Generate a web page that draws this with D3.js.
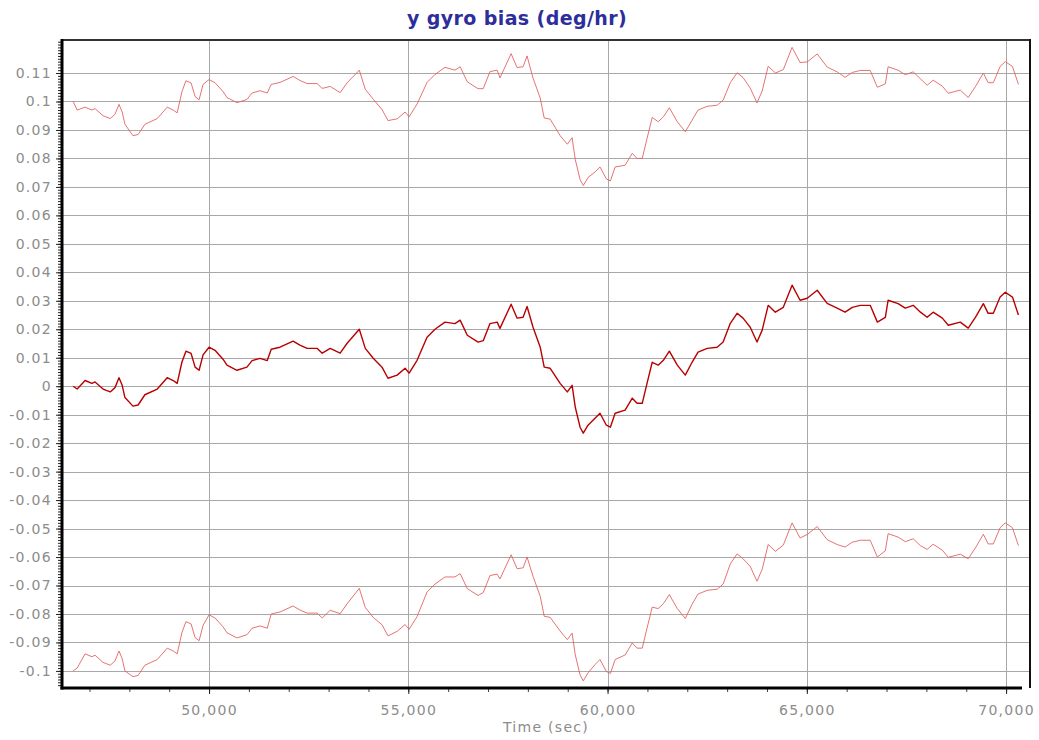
<!DOCTYPE html>
<html>
<head>
<meta charset="utf-8">
<script src="https://cdn.jsdelivr.net/npm/d3@7"></script>
<style>
  body { margin: 0; background: #fff; }
  .tick-label { font-family: "DejaVu Sans", Verdana, sans-serif; font-size: 14px; fill: #8c8c8c; letter-spacing: 1.3px; }
  .title { font-family: "DejaVu Sans", Verdana, sans-serif; font-size: 19px; font-weight: bold; fill: #2d2d9c; letter-spacing: 0.4px; }
</style>
</head>
<body>
<div id="chart"></div>
<script>

// time stamps (sec)
var times = [46590, 46690, 46890, 47060, 47140, 47340, 47520, 47640, 47740, 47820,
    47890, 48090, 48220, 48390, 48700, 48950, 49100, 49200, 49320, 49420,
    49550, 49650, 49750, 49850, 50000, 50150, 50350, 50450, 50700, 50950,
    51080, 51280, 51460, 51560, 51780, 52110, 52280, 52460, 52710, 52840,
    53040, 53290, 53460, 53770, 53920, 54120, 54340, 54490, 54720, 54920,
    55020, 55220, 55470, 55670, 55920, 56170, 56300, 56480, 56750, 56880,
    57050, 57230, 57300, 57580, 57730, 57880, 57980, 58130, 58310, 58410,
    58560, 58810, 58990, 59110, 59190, 59310, 59390, 59510, 59690, 59810,
    59970, 60070, 60190, 60440, 60620, 60740, 60870, 60990, 61120, 61270,
    61400, 61550, 61750, 61950, 62120, 62270, 62500, 62750, 62900, 63080,
    63250, 63400, 63580, 63750, 63880, 64030, 64210, 64410, 64630, 64830,
    65010, 65260, 65510, 65760, 65960, 66140, 66340, 66590, 66770, 66970,
    67040, 67290, 67470, 67670, 67850, 68020, 68170, 68400, 68550, 68850,
    69050, 69230, 69430, 69550, 69680, 69850, 69980, 70160, 70310];

// bias estimate
var bias = [0, -0.001, 0.002, 0.001, 0.0015, -0.001, -0.002, -0.0005, 0.003, 0.0003,
    -0.004, -0.007, -0.0066, -0.003, -0.001, 0.003, 0.002, 0.001, 0.0085, 0.0123,
    0.0115, 0.0067, 0.0056, 0.011, 0.0137, 0.0126, 0.0095, 0.0074, 0.0056, 0.0067,
    0.009, 0.0098, 0.009, 0.013, 0.0137, 0.0158, 0.0144, 0.0133, 0.0133, 0.0116,
    0.0133, 0.0116, 0.015, 0.02, 0.0133, 0.0098, 0.0067, 0.0028, 0.0039, 0.0063,
    0.0046, 0.0091, 0.0172, 0.02, 0.0225, 0.022, 0.0232, 0.0179, 0.0155, 0.016,
    0.022, 0.0225, 0.0203, 0.0288, 0.0239, 0.0242, 0.028, 0.0207, 0.0137, 0.0067,
    0.0063, 0.001, -0.002, 0.0003, -0.0074, -0.0144, -0.0165, -0.0137, -0.0112, -0.0095,
    -0.0137, -0.0144, -0.0095, -0.0084, -0.0042, -0.006, -0.006, 0.001, 0.0084, 0.0074,
    0.0091, 0.0123, 0.0074, 0.0039, 0.0084, 0.012, 0.0133, 0.0137, 0.0155, 0.0221,
    0.0256, 0.0239, 0.0207, 0.0155, 0.0197, 0.0284, 0.026, 0.0277, 0.0355, 0.0302,
    0.0309, 0.0337, 0.0291, 0.0274, 0.026, 0.0277, 0.0284, 0.0284, 0.0225, 0.0242,
    0.0302, 0.029, 0.0274, 0.0284, 0.026, 0.0242, 0.026, 0.0239, 0.0214, 0.0225,
    0.0204, 0.0242, 0.029, 0.0256, 0.0256, 0.0313, 0.033, 0.0313, 0.025];

// upper bound
var upper = [0.1, 0.097, 0.098, 0.097, 0.0975, 0.095, 0.094, 0.0955, 0.099, 0.0963,
    0.092, 0.088, 0.0884, 0.092, 0.094, 0.098, 0.097, 0.096, 0.1035, 0.1073,
    0.1065, 0.1017, 0.1006, 0.106, 0.1077, 0.1066, 0.1035, 0.1014, 0.0996, 0.1007,
    0.103, 0.1038, 0.103, 0.106, 0.1067, 0.1088, 0.1074, 0.1063, 0.1063, 0.1046,
    0.1053, 0.1031, 0.1065, 0.111, 0.1043, 0.1008, 0.0972, 0.0933, 0.0939, 0.0963,
    0.0946, 0.0991, 0.1067, 0.1095, 0.112, 0.111, 0.1122, 0.1069, 0.1045, 0.1045,
    0.1105, 0.111, 0.1083, 0.1168, 0.1119, 0.1122, 0.116, 0.1082, 0.1012, 0.0942,
    0.0938, 0.088, 0.085, 0.0873, 0.0796, 0.0726, 0.0705, 0.0733, 0.0753, 0.077,
    0.0728, 0.0721, 0.077, 0.0776, 0.0818, 0.08, 0.08, 0.087, 0.0944, 0.0929,
    0.0946, 0.0978, 0.0929, 0.0894, 0.0934, 0.097, 0.0983, 0.0987, 0.1005, 0.1066,
    0.1101, 0.1084, 0.1047, 0.0995, 0.1037, 0.1124, 0.11, 0.1112, 0.119, 0.1137,
    0.1139, 0.1167, 0.1121, 0.1104, 0.1085, 0.1102, 0.1109, 0.1109, 0.105, 0.1062,
    0.1122, 0.111, 0.1094, 0.1104, 0.108, 0.1057, 0.1075, 0.1054, 0.1029, 0.104,
    0.1014, 0.1052, 0.11, 0.1066, 0.1066, 0.1123, 0.114, 0.1123, 0.106];

// lower bound
var lower = [-0.1, -0.099, -0.094, -0.095, -0.0945, -0.097, -0.098, -0.0965, -0.093, -0.0957,
    -0.1, -0.102, -0.1016, -0.098, -0.096, -0.092, -0.093, -0.094, -0.0865, -0.0827,
    -0.0835, -0.0883, -0.0894, -0.084, -0.0803, -0.0814, -0.0845, -0.0866, -0.0884, -0.0873,
    -0.085, -0.0842, -0.085, -0.08, -0.0793, -0.0772, -0.0786, -0.0797, -0.0797, -0.0814,
    -0.0787, -0.0799, -0.0765, -0.071, -0.0777, -0.0812, -0.0838, -0.0877, -0.0861, -0.0837,
    -0.0854, -0.0809, -0.0723, -0.0695, -0.067, -0.067, -0.0658, -0.0711, -0.0735, -0.0725,
    -0.0665, -0.066, -0.0677, -0.0592, -0.0641, -0.0638, -0.06, -0.0668, -0.0738, -0.0808,
    -0.0812, -0.086, -0.089, -0.0867, -0.0944, -0.1014, -0.1035, -0.1007, -0.0977, -0.096,
    -0.1002, -0.1009, -0.096, -0.0944, -0.0902, -0.092, -0.092, -0.085, -0.0776, -0.0781,
    -0.0764, -0.0732, -0.0781, -0.0816, -0.0766, -0.073, -0.0717, -0.0713, -0.0695, -0.0624,
    -0.0589, -0.0606, -0.0633, -0.0685, -0.0643, -0.0556, -0.058, -0.0558, -0.048, -0.0533,
    -0.0521, -0.0493, -0.0539, -0.0556, -0.0565, -0.0548, -0.0541, -0.0541, -0.06, -0.0578,
    -0.0518, -0.053, -0.0546, -0.0536, -0.056, -0.0573, -0.0555, -0.0576, -0.0601, -0.059,
    -0.0606, -0.0568, -0.052, -0.0554, -0.0554, -0.0497, -0.048, -0.0497, -0.056];

var xTicks = [50000, 55000, 60000, 65000, 70000];
var yTicks = [0.11, 0.1, 0.09, 0.08, 0.07, 0.06, 0.05, 0.04, 0.03, 0.02, 0.01, 0,
    -0.01, -0.02, -0.03, -0.04, -0.05, -0.06, -0.07, -0.08, -0.09, -0.1];

var width = 1039,
    height = 740,
    plotLeft = 62,
    plotRight = 1030,
    plotTop = 40,
    plotBottom = 688;

var svg = d3.select("#chart").append("svg")
    .attr("width", width)
    .attr("height", height);

var x = d3.scaleLinear().domain([46310, 70600]).range([plotLeft, plotRight]);
var y = d3.scaleLinear().domain([-0.106, 0.1216]).range([plotBottom, plotTop]);

// title
svg.append("text")
    .attr("class", "title")
    .attr("x", 517)
    .attr("y", 25)
    .attr("text-anchor", "middle")
    .text("y gyro bias (deg/hr)");

// grid
svg.append("g").selectAll("line")
    .data(yTicks)
    .enter().append("line")
    .attr("x1", plotLeft).attr("x2", plotRight)
    .attr("y1", function(d) { return Math.round(y(d)) + 0.5; })
    .attr("y2", function(d) { return Math.round(y(d)) + 0.5; })
    .attr("stroke", "#a8a8a8");

svg.append("g").selectAll("line")
    .data(xTicks)
    .enter().append("line")
    .attr("y1", plotTop).attr("y2", plotBottom)
    .attr("x1", function(d) { return Math.round(x(d)) + 0.5; })
    .attr("x2", function(d) { return Math.round(x(d)) + 0.5; })
    .attr("stroke", "#a8a8a8");

// series
function series(vals, color, w, op) {
    var line = d3.line()
        .x(function(d, i) { return x(times[i]); })
        .y(function(d) { return y(d); });
    svg.append("path")
        .datum(vals)
        .attr("d", line)
        .attr("fill", "none")
        .attr("stroke", color)
        .attr("stroke-width", w)
        .attr("stroke-opacity", op)
        .attr("stroke-linejoin", "round");
}

series(upper, "#e05a5a", 1, 0.85);
series(lower, "#e05a5a", 1, 0.85);
series(bias, "#b80000", 1.4, 1);

// y axis, minor ticks every 0.001
var yAxis = d3.axisLeft(y)
    .tickValues(yTicks)
    .tickSize(6)
    .tickPadding(4)
    .tickFormat(function(d) { return d === 0 ? "0" : String(+d.toFixed(2)); });

var minorY = d3.range(-105, 122).map(function(v) { return v / 1000; });

svg.append("g")
    .attr("transform", "translate(" + plotLeft + ",0)")
    .call(d3.axisLeft(y).tickValues(minorY).tickSize(4).tickFormat(""))
    .call(function(g) { g.select(".domain").remove(); g.selectAll("line").attr("stroke", "#222"); });

var gy = svg.append("g")
    .attr("transform", "translate(" + plotLeft + ",0)")
    .call(yAxis);
gy.select(".domain").remove();
gy.selectAll("text").attr("class", "tick-label").attr("fill", null);
gy.selectAll("line").attr("stroke", "#222");

// x axis, minor ticks every 1000
var minorX = d3.range(47000, 70600, 1000);

svg.append("g")
    .attr("transform", "translate(0," + plotBottom + ")")
    .call(d3.axisBottom(x).tickValues(minorX).tickSize(4).tickFormat(""))
    .call(function(g) { g.select(".domain").remove(); g.selectAll("line").attr("stroke", "#444"); });

var gx = svg.append("g")
    .attr("transform", "translate(0," + plotBottom + ")")
    .call(d3.axisBottom(x).tickValues(xTicks).tickSize(6).tickPadding(11).tickFormat(d3.format(",")));
gx.select(".domain").remove();
gx.selectAll("text").attr("class", "tick-label").attr("fill", null);
gx.selectAll("line").attr("stroke", "#222");

svg.append("text")
    .attr("class", "tick-label")
    .attr("x", (plotLeft + plotRight) / 2)
    .attr("y", 732)
    .attr("text-anchor", "middle")
    .text("Time (sec)");

// frame
svg.append("line").attr("x1", plotLeft).attr("x2", plotRight).attr("y1", plotTop).attr("y2", plotTop)
    .attr("stroke", "#333").attr("stroke-width", 2);
svg.append("line").attr("x1", plotRight).attr("x2", plotRight).attr("y1", plotTop - 1).attr("y2", plotBottom)
    .attr("stroke", "#111").attr("stroke-width", 2);
svg.append("line").attr("x1", plotLeft).attr("x2", plotLeft).attr("y1", plotTop - 1).attr("y2", plotBottom + 1.5)
    .attr("stroke", "#000").attr("stroke-width", 3);
svg.append("line").attr("x1", plotLeft - 1.5).attr("x2", plotRight - 8).attr("y1", plotBottom).attr("y2", plotBottom)
    .attr("stroke", "#000").attr("stroke-width", 3);

</script>
</body>
</html>
